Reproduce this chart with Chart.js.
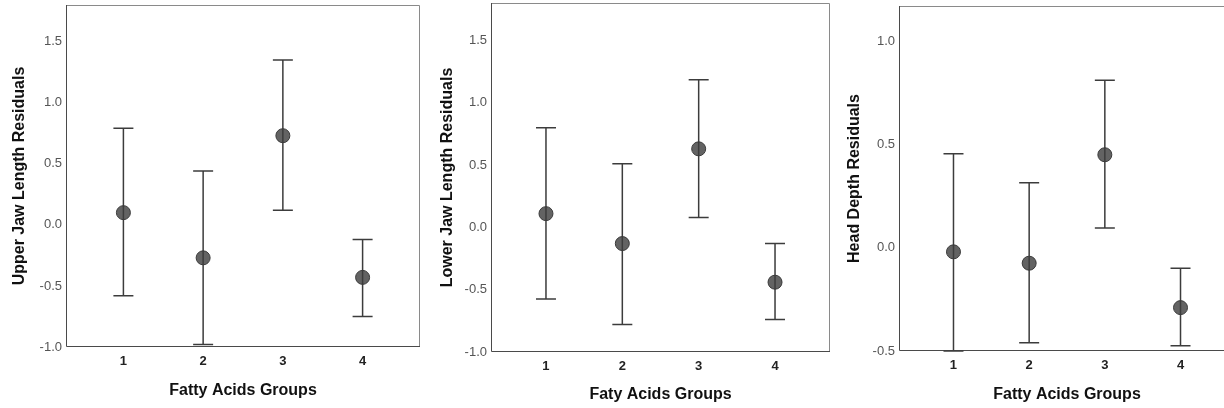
<!DOCTYPE html>
<html>
<head>
<meta charset="utf-8">
<script src="https://cdn.jsdelivr.net/npm/chart.js@4/dist/chart.umd.min.js"></script>
<style>
  html, body { margin: 0; padding: 0; background: #fff; overflow: hidden; }
  body { width: 1224px; height: 408px; position: relative; }
  canvas { position: absolute; top: 0; }
</style>
</head>
<body>
<canvas id="upperJaw" width="424" height="408" style="left:0px"></canvas>
<canvas id="lowerJaw" width="408" height="408" style="left:424px"></canvas>
<canvas id="headDepth" width="410" height="408" style="left:832px"></canvas>
<script>
const groups = [1, 2, 3, 4]

// residual means with lower / upper error bar ends, one set per trait
const upperJawMean  = [0.10, -0.27, 0.73, -0.43]
const upperJawLow   = [-0.58, -0.98, 0.12, -0.75]
const upperJawHigh  = [0.79, 0.44, 1.35, -0.12]

const lowerJawMean  = [0.11, -0.13, 0.63, -0.44]
const lowerJawLow   = [-0.575, -0.78, 0.08, -0.74]
const lowerJawHigh  = [0.80, 0.51, 1.185, -0.13]

const headDepthMean = [-0.02, -0.075, 0.45, -0.29]
const headDepthLow  = [-0.50, -0.46, 0.095, -0.475]
const headDepthHigh = [0.455, 0.315, 0.81, -0.10]

const jawTicks  = [-1.0, -0.5, 0.0, 0.5, 1.0, 1.5]
const headTicks = [-0.5, 0.0, 0.5, 1.0]

const family = 'Arial, "Liberation Sans", sans-serif'

// whiskers with caps, drawn under the points
const errorBars = {
    id: 'errorBars',
    beforeDatasetsDraw(chart, args, opts) {
        const {ctx, scales: {x, y}} = chart
        ctx.save()
        ctx.strokeStyle = '#3c3c3c'
        ctx.lineWidth = 1.5
        opts.low.forEach((lo, i) => {
            const px = x.getPixelForValue(groups[i])
            const top = y.getPixelForValue(opts.high[i])
            const bot = y.getPixelForValue(lo)
            ctx.beginPath()
            ctx.moveTo(px, top); ctx.lineTo(px, bot)
            ctx.moveTo(px - 10, top); ctx.lineTo(px + 10, top)
            ctx.moveTo(px - 10, bot); ctx.lineTo(px + 10, bot)
            ctx.stroke()
        })
        ctx.restore()
    }
}

// box round the plot area: dark axes, lighter top and right
const frame = {
    id: 'frame',
    beforeDatasetsDraw(chart) {
        const {ctx, chartArea: a} = chart
        ctx.save()
        ctx.lineWidth = 1
        ctx.strokeStyle = '#8a8a8a'
        ctx.beginPath()
        ctx.moveTo(a.left + 0.5, a.top + 0.5); ctx.lineTo(a.right - 0.5, a.top + 0.5); ctx.lineTo(a.right - 0.5, a.bottom)
        ctx.stroke()
        ctx.strokeStyle = '#4a4a4a'
        ctx.beginPath()
        ctx.moveTo(a.left + 0.5, a.top); ctx.lineTo(a.left + 0.5, a.bottom - 0.5); ctx.lineTo(a.right, a.bottom - 0.5)
        ctx.stroke()
        ctx.restore()
    }
}

function draw(p) {
    new Chart(document.getElementById(p.id), {
        type: 'scatter',
        data: {
            datasets: [{
                data: groups.map((g, i) => ({x: g, y: p.mean[i]})),
                pointRadius: 7,
                pointHoverRadius: 7,
                backgroundColor: 'rgba(60,60,60,0.8)',
                borderColor: '#3a3a3a',
                borderWidth: 1
            }]
        },
        options: {
            responsive: false,
            animation: false,
            devicePixelRatio: 1,
            layout: {
                autoPadding: false,
                padding: {top: p.top, right: p.right, left: 0, bottom: 0}
            },
            plugins: {
                legend: {display: false},
                tooltip: {enabled: false},
                errorBars: {low: p.low, high: p.high}
            },
            scales: {
                x: {
                    type: 'linear',
                    min: 0.28,
                    max: 4.72,
                    afterBuildTicks: s => { s.ticks = groups.map(v => ({value: v})) },
                    afterFit: s => {
                        s.height = p.xHeight
                        s.paddingLeft = 0
                        s.paddingRight = 0
                    },
                    grid: {display: false, drawTicks: false},
                    border: {display: false},
                    ticks: {
                        padding: p.xTickPad,
                        color: '#222',
                        maxRotation: 0,
                        autoSkip: false,
                        font: {family, size: 13, weight: 'bold'},
                        callback: v => String(v)
                    },
                    title: {
                        display: true,
                        text: p.xTitle,
                        color: '#111',
                        font: {family, size: 16, weight: 'bold'},
                        padding: {top: 0, bottom: p.xTitlePad}
                    }
                },
                y: {
                    min: p.yMin,
                    max: p.yMax,
                    afterBuildTicks: s => { s.ticks = p.yTicks.map(v => ({value: v})) },
                    afterFit: s => {
                        s.width = p.yWidth
                        s.paddingTop = 0
                        s.paddingBottom = 0
                    },
                    grid: {display: false, drawTicks: false},
                    border: {display: false},
                    ticks: {
                        padding: 4,
                        color: '#555',
                        font: {family, size: 13},
                        callback: v => v.toFixed(1)
                    },
                    title: {
                        display: true,
                        text: p.yTitle,
                        color: '#111',
                        font: {family, size: 16, weight: 'bold'},
                        padding: {top: p.yTitlePad, bottom: 0}
                    }
                }
            }
        },
        plugins: [frame, errorBars]
    })
}

draw({id: 'upperJaw', mean: upperJawMean, low: upperJawLow, high: upperJawHigh,
      yMin: -1.0, yMax: 1.8, yTicks: jawTicks, yTitle: 'Upper Jaw Length Residuals',
      xTitle: 'Fatty Acids Groups', top: 5, right: 4, yWidth: 66, xHeight: 61,
      xTickPad: 7, xTitlePad: 8, yTitlePad: 10})

draw({id: 'lowerJaw', mean: lowerJawMean, low: lowerJawLow, high: lowerJawHigh,
      yMin: -1.0, yMax: 1.8, yTicks: jawTicks, yTitle: 'Lower Jaw Length Residuals',
      xTitle: 'Faty Acids Groups', top: 3, right: 2, yWidth: 67, xHeight: 56,
      xTickPad: 7, xTitlePad: 4, yTitlePad: 14})

draw({id: 'headDepth', mean: headDepthMean, low: headDepthLow, high: headDepthHigh,
      yMin: -0.5, yMax: 1.17, yTicks: headTicks, yTitle: 'Head Depth Residuals',
      xTitle: 'Fatty Acids Groups', top: 6, right: 7, yWidth: 67, xHeight: 57,
      xTickPad: 7, xTitlePad: 4, yTitlePad: 13})
</script>
</body>
</html>
